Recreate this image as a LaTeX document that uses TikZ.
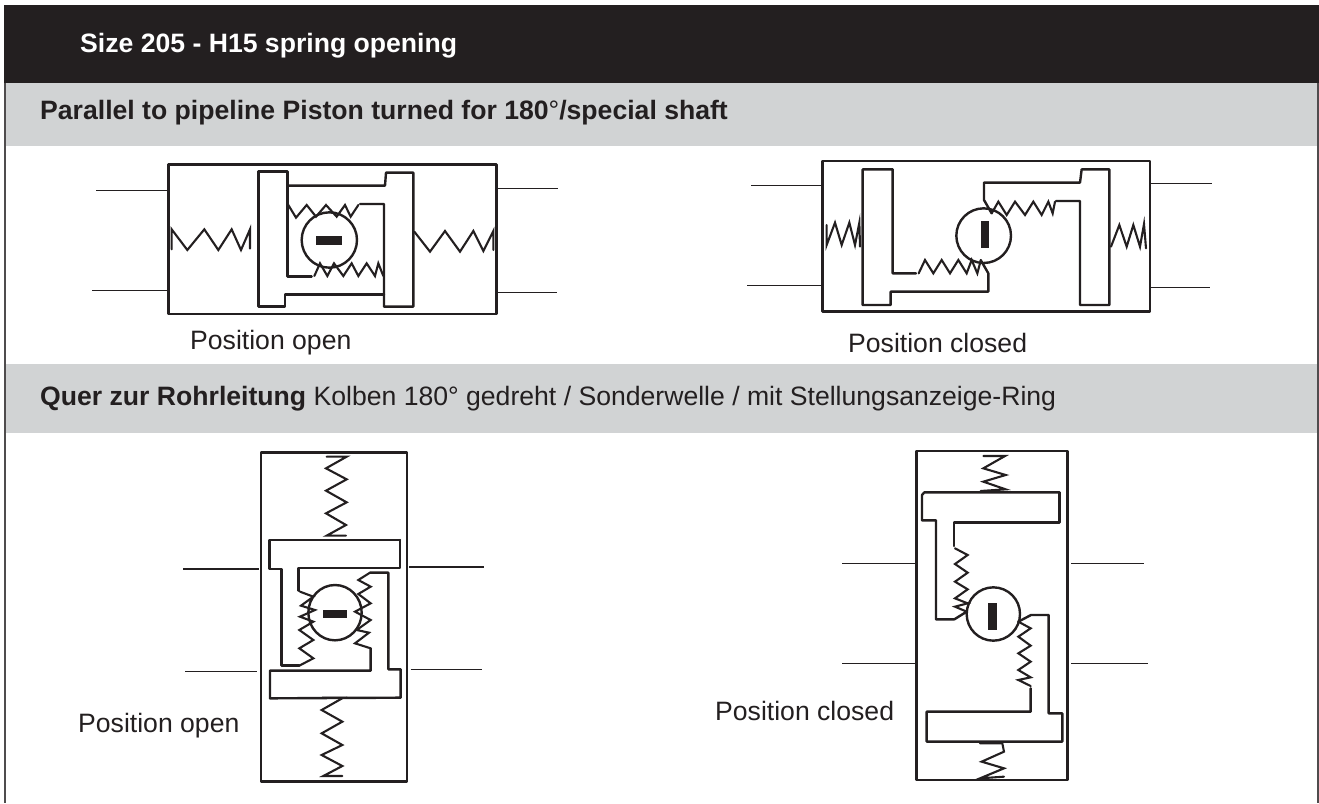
\documentclass[tikz,border=0pt]{standalone}
\usepackage{fontspec}
\setmainfont{Liberation Sans}
\definecolor{ink}{RGB}{35,31,32}
\definecolor{band}{RGB}{209,211,212}
\tikzset{
  heavy/.style={draw=ink,line width=2.4pt,line join=round,line cap=round},
  springline/.style={draw=ink,line width=2.1pt,line join=miter,line cap=round},
  pipe/.style={draw=ink,line width=1.5pt},
  frameline/.style={draw=ink!80,line width=1.6pt},
  caption/.style={anchor=base west,inner sep=0pt,text=ink,font=\fontsize{26.6pt}{30pt}\selectfont},
  headtext/.style={anchor=base west,inner sep=0pt,text=ink,font=\fontsize{26.6pt}{30pt}\selectfont},
  boldhead/.style={headtext,font=\bfseries\fontsize{26.6pt}{30pt}\selectfont},
  zoomA/.style={shift={(80pt,-150pt)},x=0.33333pt,y=-0.33333pt},
  zoomB/.style={shift={(740pt,-150pt)},x=0.33333pt,y=-0.33333pt},
  zoomC/.style={shift={(170pt,-440pt)},x=0.33333pt,y=-0.33333pt},
  zoomD/.style={shift={(830pt,-440pt)},x=0.33333pt,y=-0.33333pt},
}
\begin{document}
\begin{tikzpicture}[x=1pt,y=-1pt]
\useasboundingbox (0,0) rectangle (1319,803);
% bands
\fill[ink] (4,5) rectangle (1319,83);
\fill[band] (4,83) rectangle (1319,146);
\fill[band] (4,364) rectangle (1319,433);
\draw[frameline] (4.7,83) -- (4.7,803);
\draw[frameline] (1318,83) -- (1318,803);
% texts
\node[boldhead,text=white] (title) at (80,52) {Size 205 - H15 spring opening};
\node[boldhead] (rowa) at (40,119.5) {Parallel to pipeline Piston turned for 180{\mdseries °}/special shaft};
\node[headtext] (rowb) at (40,405) {\textbf{Quer zur Rohrleitung} Kolben 180° gedreht / Sonderwelle / mit Stellungsanzeige-Ring};
\node[caption] (capa) at (190,349) {Position open};
\node[caption] (capb) at (848,352) {Position closed};
\node[caption] (capc) at (78,732) {Position open};
\node[caption] (capd) at (715,720) {Position closed};
% diagram A
\begin{scope}[zoomA]
\draw[heavy] (265,43) rectangle (1250,492);
\draw[pipe] (48,121) -- (265,121) (37,421) -- (265,421) (1250,115) -- (1435,115) (1250,428) -- (1430,428);
\draw[springline] (275,298) -- (275,238) -- (322,300) -- (373,238) -- (415,300) -- (455,238) -- (483,300) -- (510,238) -- (510,296);
\draw[heavy] (695,380) -- (622,380) -- (622,65) -- (535,65) -- (535,470) -- (615,470) -- (615,433) -- (912,433);
\draw[heavy] (622,107) -- (915,107) -- (918,68) -- (1000,68) -- (1000,470) -- (912,470) -- (912,162) -- (840,162);
\draw[springline] (625,165) -- (648,203) -- (680,165) -- (708,200) -- (738,165) -- (770,200) -- (795,165) -- (812,200) -- (835,165);
\draw[heavy] (748,270) circle[radius=83];
\fill[ink] (708,258) rectangle (786,285);
\draw[springline] (703,378) -- (720,340) -- (742,378) -- (762,340) -- (790,378) -- (815,340) -- (835,378) -- (860,340) -- (885,378) -- (895,340) -- (910,378);
\draw[springline] (1003,245) -- (1050,305) -- (1095,243) -- (1140,305) -- (1180,243) -- (1210,303) -- (1240,243) -- (1240,300);
\end{scope}
% diagram B
\begin{scope}[zoomB]
\draw[heavy] (248,33) rectangle (1230,484);
\draw[pipe] (33,106) -- (248,106) (21,406) -- (248,406) (1230,100) -- (1416,100) (1230,412) -- (1410,412);
\draw[springline] (260,225) -- (260,285) -- (285,218) -- (305,285) -- (328,218) -- (345,285) -- (358,218) -- (360,290);
\draw[heavy] (528,370) -- (458,370) -- (458,58) -- (368,58) -- (368,465) -- (452,465) -- (452,425) -- (745,425) -- (745,370) -- (722,330);
\draw[springline] (536,370) -- (555,330) -- (580,370) -- (605,330) -- (630,370) -- (655,330) -- (680,370) -- (695,330) -- (712,370) -- (722,332);
\draw[heavy] (755,190) -- (732,150) -- (732,98) -- (1020,98) -- (1025,58) -- (1108,58) -- (1108,465) -- (1020,465) -- (1020,153) -- (948,153);
\draw[springline] (755,190) -- (775,155) -- (800,195) -- (825,155) -- (855,195) -- (880,155) -- (905,195) -- (925,155) -- (938,190) -- (945,155);
\draw[heavy] (731,257) circle[radius=82];
\fill[ink] (723,213) rectangle (747,293);
\draw[springline] (1113,290) -- (1138,225) -- (1160,290) -- (1180,225) -- (1200,290) -- (1212,222) -- (1218,295);
\end{scope}
% diagram C
\begin{scope}[zoomC]
\draw[heavy] (273,37) rectangle (711,1024);
\draw[pipe] (40,387) -- (266,387) (46,695) -- (260,695) (717,381) -- (942,381) (722,688) -- (937,688);
\draw[springline] (470,50) -- (530,50) -- (468,85) -- (530,118) -- (468,152) -- (530,187) -- (468,220) -- (528,255) -- (470,287) -- (528,287);
\draw[heavy] (690,300) -- (298,300) -- (298,387) -- (335,387) -- (335,677) -- (388,677);
\draw[heavy] (690,300) -- (690,384) -- (385,384) -- (385,452);
\draw[springline] (388,677) -- (430,655) -- (388,625) -- (430,600) -- (388,570) -- (430,545) -- (390,530) -- (435,510) -- (393,497) -- (430,470) -- (390,455);
\draw[heavy] (600,398) -- (655,398) -- (655,688) -- (692,688) -- (692,773) -- (300,775) -- (300,692) -- (602,692) -- (602,625);
\draw[springline] (600,398) -- (565,420) -- (602,440) -- (565,462) -- (602,490) -- (555,515) -- (602,540) -- (560,570) -- (597,578) -- (555,610) -- (602,625);
\draw[heavy] (495,518) ellipse[x radius=80,y radius=83];
\fill[ink] (460,510) rectangle (531,534);
\draw[springline] (457,773) -- (520,773) -- (455,810) -- (517,845) -- (455,880) -- (517,915) -- (455,945) -- (517,978) -- (460,1008) -- (517,1008);
\end{scope}
% diagram D
\begin{scope}[zoomD]
\draw[heavy] (260,33) rectangle (713,1020);
\draw[pipe] (37,370) -- (255,370) (37,670) -- (265,670) (724,370) -- (941,370) (724,670) -- (953,670);
\draw[springline] (460,48) -- (525,48) -- (460,85) -- (527,105) -- (460,125) -- (527,148) -- (452,153);
\draw[heavy] (688,157) -- (283,157) -- (276,165) -- (276,241) -- (318,241) -- (318,538) -- (373,538) -- (410,515);
\draw[heavy] (688,157) -- (688,248) -- (372,248) -- (372,318);
\draw[springline] (375,325) -- (413,345) -- (375,372) -- (413,398) -- (375,425) -- (413,448) -- (375,475) -- (413,490) -- (375,500) -- (410,515);
\draw[heavy] (490,522) circle[radius=80];
\fill[ink] (474,490) rectangle (500,569);
\draw[heavy] (565,545) -- (603,525) -- (656,525) -- (656,820) -- (697,820) -- (697,905) -- (290,905) -- (290,815) -- (602,815) -- (602,745);
\draw[springline] (565,545) -- (602,565) -- (565,590) -- (602,617) -- (565,640) -- (602,665) -- (565,690) -- (602,712) -- (565,720) -- (602,738);
\draw[springline] (450,910) -- (517,910) -- (522,935) -- (455,965) -- (522,985) -- (450,1015) -- (522,1010);
\end{scope}
\end{tikzpicture}
\end{document}
